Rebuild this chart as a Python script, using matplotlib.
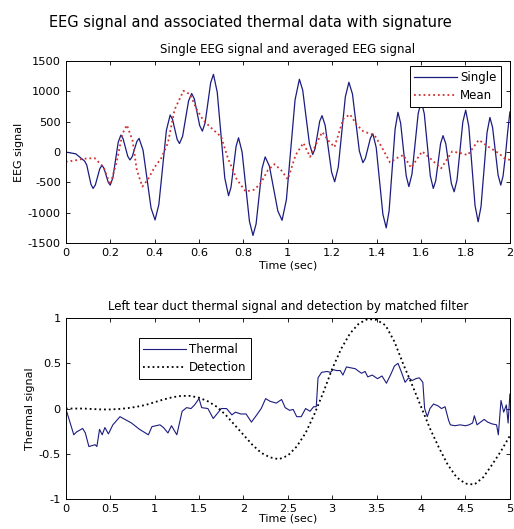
import matplotlib
matplotlib.use("Agg")
import matplotlib.pyplot as plt

plt.rcParams['font.family'] = ['DejaVu Sans']
plt.rcParams['axes.unicode_minus'] = False

# single EEG trace (sec, value)
t_single = [0.000, 0.045, 0.085, 0.0945, 0.104, 0.1135, 0.123, 0.133, 0.143, 0.153, 0.163,
            0.172, 0.1815, 0.191, 0.200, 0.212, 0.224, 0.236, 0.248, 0.258, 0.2685, 0.279,
            0.289, 0.299, 0.3095, 0.320, 0.330, 0.348, 0.366, 0.384, 0.402, 0.419, 0.436,
            0.453, 0.470, 0.4805, 0.491, 0.5015, 0.512, 0.526, 0.5395, 0.553, 0.567, 0.579,
            0.591, 0.603, 0.615, 0.6275, 0.640, 0.6525, 0.665, 0.682, 0.699, 0.716, 0.733,
            0.744, 0.7555, 0.767, 0.778, 0.794, 0.8105, 0.827, 0.843, 0.857, 0.8705, 0.884,
            0.898, 0.917, 0.936, 0.955, 0.974, 0.9935, 1.013, 1.0325, 1.052, 1.067, 1.082,
            1.097, 1.112, 1.1225, 1.133, 1.1435, 1.154, 1.168, 1.1825, 1.197, 1.211, 1.227,
            1.243, 1.259, 1.275, 1.291, 1.3065, 1.322, 1.338, 1.349, 1.3605, 1.372, 1.383,
            1.398, 1.413, 1.428, 1.443, 1.456, 1.4695, 1.483, 1.496, 1.508, 1.5205, 1.533,
            1.545, 1.559, 1.573, 1.587, 1.601, 1.6145, 1.628, 1.6415, 1.655, 1.666, 1.677,
            1.688, 1.699, 1.7115, 1.724, 1.7365, 1.749, 1.762, 1.775, 1.788, 1.801, 1.815,
            1.829, 1.843, 1.857, 1.870, 1.8835, 1.897, 1.910, 1.922, 1.9345, 1.947, 1.959,
            1.969, 1.980, 1.990, 2.000]
v_single = [0, -30, -150, -216, -375, -534, -600, -544, -410, -276, -220,
            -267, -383, -498, -545, -425, -133, 160, 280, 220, 75, -70,
            -130, -78, 48, 173, 225, 29, -448, -924, -1120, -867, -255,
            357, 610, 541, 375, 209, 140, 260, 553, 845, 965, 874,
            655, 436, 345, 482, 813, 1143, 1280, 988, 280, -428, -720,
            -581, -243, 96, 235, 0, -570, -1140, -1375, -1186, -728, -269,
            -80, -233, -603, -972, -1125, -786, 38, 861, 1200, 1019, 580,
            141, -40, 53, 280, 507, 600, 441, 55, -331, -490, -251,
            330, 911, 1150, 957, 488, 18, -175, -106, 63, 231, 300,
            74, -475, -1024, -1250, -972, -298, 377, 655, 476, 43, -391,
            -570, -364, 135, 634, 840, 630, 120, -390, -600, -473, -165,
            143, 270, 135, -193, -520, -655, -459, 18, 494, 690, 421,
            -230, -881, -1150, -899, -290, 319, 570, 407, 13, -382, -545,
            -400, -60, 330, 660]

# averaged EEG trace
t_mean = [0.00, 0.04, 0.08, 0.13, 0.17, 0.20, 0.23, 0.255, 0.275, 0.30, 0.32, 0.345, 0.37,
          0.40, 0.43, 0.46, 0.49, 0.53, 0.56, 0.59, 0.62, 0.66, 0.70, 0.73, 0.77, 0.81,
          0.85, 0.88, 0.91, 0.94, 0.97, 1.00, 1.035, 1.07, 1.10, 1.13, 1.155, 1.18, 1.21,
          1.25, 1.28, 1.31, 1.34, 1.39, 1.42, 1.46, 1.49, 1.52, 1.555, 1.605, 1.64, 1.69,
          1.74, 1.78, 1.81, 1.86, 1.91, 1.95, 1.975, 2.00]
v_mean = [-160, -140, -110, -100, -250, -540, -150, 300, 445, 200, -300, -570, -450,
          -250, -100, 150, 700, 1010, 950, 700, 520, 380, 250, -100, -450, -650,
          -620, -500, -300, -200, -300, -450, -50, 150, -80, 150, 330, 200, 80,
          550, 620, 450, 340, 280, 100, -170, -100, -50, -260, 10, -100, -270,
          10, -20, -50, 200, 70, -20, -100, -130]

# left tear duct thermal signal
t_thermal = [0.00, 0.09, 0.12, 0.19, 0.22, 0.26, 0.33, 0.35, 0.38, 0.41, 0.44, 0.48, 0.53,
             0.61, 0.74, 0.83, 0.93, 0.97, 1.06, 1.10, 1.15, 1.19, 1.25, 1.31, 1.36, 1.41,
             1.45, 1.50, 1.53, 1.60, 1.66, 1.71, 1.75, 1.81, 1.87, 1.91, 1.97, 2.03, 2.09,
             2.15, 2.20, 2.25, 2.30, 2.37, 2.43, 2.47, 2.52, 2.56, 2.60, 2.65, 2.70, 2.75,
             2.79, 2.82, 2.84, 2.88, 2.94, 2.98, 3.01, 3.05, 3.09, 3.12, 3.16, 3.21, 3.26,
             3.30, 3.33, 3.37, 3.40, 3.45, 3.51, 3.56, 3.61, 3.66, 3.70, 3.74, 3.78, 3.82,
             3.86, 3.90, 3.94, 3.98, 4.02, 4.04, 4.07, 4.10, 4.14, 4.19, 4.23, 4.27, 4.31,
             4.33, 4.38, 4.44, 4.50, 4.54, 4.58, 4.60, 4.63, 4.67, 4.71, 4.75, 4.80, 4.85,
             4.87, 4.90, 4.93, 4.96, 4.98, 5.00]
v_thermal = [0.00, -0.29, -0.26, -0.22, -0.27, -0.42, -0.40, -0.42, -0.23, -0.29, -0.21, -0.28, -0.18,
             -0.09, -0.16, -0.23, -0.29, -0.20, -0.18, -0.21, -0.27, -0.19, -0.29, -0.03, 0.01, 0.00,
             0.04, 0.11, 0.01, 0.00, -0.11, -0.05, 0.00, 0.00, -0.07, -0.04, -0.06, -0.06, -0.15,
             -0.07, 0.00, 0.11, 0.08, 0.06, 0.10, 0.01, -0.02, -0.01, -0.09, -0.09, 0.00, -0.03,
             0.02, 0.02, 0.34, 0.40, 0.41, 0.40, 0.43, 0.42, 0.42, 0.37, 0.46, 0.45, 0.44,
             0.41, 0.39, 0.41, 0.35, 0.37, 0.33, 0.36, 0.28, 0.38, 0.47, 0.50, 0.40, 0.29,
             0.34, 0.31, 0.33, 0.34, 0.29, 0.00, -0.09, 0.00, 0.05, 0.03, 0.00, 0.02, -0.13,
             -0.18, -0.19, -0.18, -0.19, -0.18, -0.16, -0.08, -0.18, -0.15, -0.12, -0.15, -0.17, -0.18,
             -0.29, 0.09, -0.04, 0.04, -0.16, 0.16]

# matched filter output
t_detect = [0.0, 0.1, 0.2, 0.3, 0.4, 0.5, 0.6, 0.7, 0.8, 0.9, 1.0, 1.1, 1.2, 1.3, 1.4, 1.5, 1.6,
            1.7, 1.8, 1.9, 2.0, 2.1, 2.2, 2.3, 2.4, 2.5, 2.6, 2.7, 2.8, 2.9, 3.0, 3.1, 3.2, 3.3,
            3.4, 3.5, 3.6, 3.7, 3.8, 3.9, 4.0, 4.1, 4.2, 4.3, 4.4, 4.5, 4.6, 4.7, 4.8, 4.9, 5.0]
v_detect = [0.0, 0.0, 0.0, -0.005, -0.01, -0.01, -0.005, 0.005, 0.02, 0.04, 0.07, 0.10, 0.125, 0.14,
            0.14, 0.12, 0.08, 0.02, -0.07, -0.18, -0.29, -0.40, -0.49, -0.54, -0.56, -0.52, -0.42,
            -0.27, -0.06, 0.18, 0.44, 0.66, 0.83, 0.94, 0.99, 0.98, 0.92, 0.74, 0.49, 0.26, 0.02,
            -0.22, -0.43, -0.62, -0.76, -0.83, -0.84, -0.76, -0.62, -0.47, -0.30]

navy = '#1c1c80'

fig = plt.figure(figsize=(5.14, 5.29), dpi=100)
fig.suptitle('EEG signal and associated thermal data with signature', fontsize=10.5,
             x=0.487, y=0.972)


def style(ax):
    ax.tick_params(direction='in', top=True, right=True, labelsize=8.2, length=3, width=0.6)
    for s in ax.spines.values():
        s.set_linewidth(0.7)


leg_kw = dict(fontsize=8.5, fancybox=False, edgecolor='black', framealpha=1,
              handlelength=3.6, handletextpad=0.25, borderpad=0.4, labelspacing=0.45,
              borderaxespad=0)

# top panel
ax1 = fig.add_axes([0.128, 0.5406, 0.864, 0.344])
ax1.plot(t_single, v_single, color=navy, lw=0.9, label='Single')
ax1.plot(t_mean, v_mean, color='#d03030', lw=1.3, ls=':', label='Mean')
ax1.set_xlim(0, 2)
ax1.set_ylim(-1500, 1500)
ax1.set_xticks([0, 0.2, 0.4, 0.6, 0.8, 1, 1.2, 1.4, 1.6, 1.8, 2])
ax1.set_xticklabels(['0', '0.2', '0.4', '0.6', '0.8', '1', '1.2', '1.4', '1.6', '1.8', '2'])
ax1.set_yticks([-1500, -1000, -500, 0, 500, 1000, 1500])
ax1.set_title('Single EEG signal and averaged EEG signal', fontsize=8.5, pad=6)
ax1.set_xlabel('Time (sec)', fontsize=8, labelpad=2)
ax1.set_ylabel('EEG signal', fontsize=8, labelpad=3)
style(ax1)
leg = ax1.legend(loc='upper right', bbox_to_anchor=(0.98, 0.973), **leg_kw)
leg.get_frame().set_linewidth(0.7)

# bottom panel
ax2 = fig.add_axes([0.128, 0.0567, 0.864, 0.342])
ax2.plot(t_thermal, v_thermal, color=navy, lw=0.8, label='Thermal')
ax2.plot(t_detect, v_detect, color='black', lw=1.3, ls=':', label='Detection')
ax2.set_xlim(0, 5)
ax2.set_ylim(-1, 1)
ax2.set_xticks([0, 0.5, 1, 1.5, 2, 2.5, 3, 3.5, 4, 4.5, 5])
ax2.set_xticklabels(['0', '0.5', '1', '1.5', '2', '2.5', '3', '3.5', '4', '4.5', '5'])
ax2.set_yticks([-1, -0.5, 0, 0.5, 1])
ax2.set_yticklabels(['-1', '-0.5', '0', '0.5', '1'])
ax2.set_title('Left tear duct thermal signal and detection by matched filter', fontsize=8.5, pad=6)
ax2.set_xlabel('Time (sec)', fontsize=8, labelpad=0)
ax2.set_ylabel('Thermal signal', fontsize=8, labelpad=3)
style(ax2)
leg2 = ax2.legend(loc='upper left', bbox_to_anchor=(0.164, 0.889), **leg_kw)
leg2.get_frame().set_linewidth(0.7)

fig.savefig('out.png', dpi=100)
